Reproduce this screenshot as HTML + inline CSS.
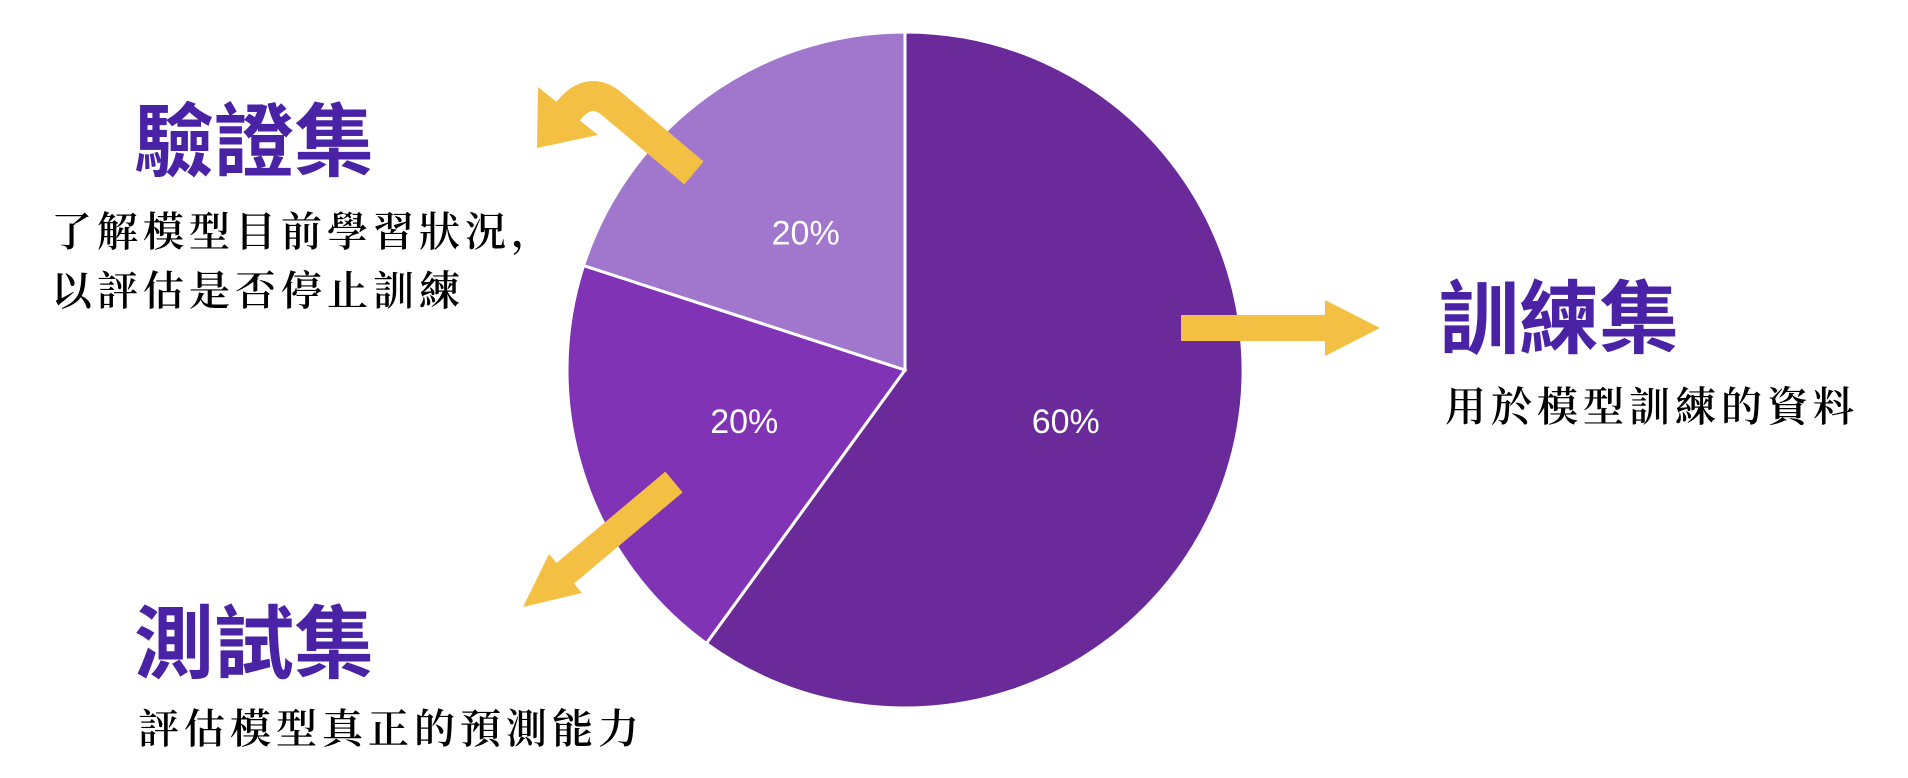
<!DOCTYPE html>
<html><head><meta charset="utf-8"><style>
html,body{margin:0;padding:0;background:#fff;}
body{width:1908px;height:778px;position:relative;overflow:hidden;}
svg{position:absolute;left:0;top:0;}
.title{position:absolute;font-family:"Liberation Sans","Noto Sans CJK TC",sans-serif;font-weight:bold;font-size:80px;color:#4a22a5;line-height:1;white-space:nowrap;}
.sub{position:absolute;font-family:"Liberation Serif","Noto Serif CJK SC",serif;font-weight:600;font-size:41px;color:#000;line-height:1;letter-spacing:5px;white-space:nowrap;}
</style></head><body>
<svg id="chart" width="1908" height="778"></svg>
<div class="title" style="left:134px;top:103px;">驗證集</div>
<div class="sub" style="left:51px;top:212px;">了解模型目前學習狀況，</div>
<div class="sub" style="left:51px;top:271px;">以評估是否停止訓練</div>
<div class="title" style="left:1439px;top:280px;">訓練集</div>
<div class="sub" style="left:1445px;top:387px;">用於模型訓練的資料</div>
<div class="title" style="left:134px;top:605px;">測試集</div>
<div class="sub" style="left:138px;top:709px;">評估模型真正的預測能力</div>
<script>
const categories = ['訓練集', '測試集', '驗證集'];
const values = [60, 20, 20];
const valueLabels = ['60%', '20%', '20%'];
const colors = ['#6a2a9a', '#8033b5', '#a176cd'];
const NS = 'http://www.w3.org/2000/svg';
const svg = document.getElementById('chart');
const cx = 905, cy = 370, r = 338;
const total = values.reduce((a, b) => a + b, 0);
function pt(angDeg, rad) {
  const a = angDeg * Math.PI / 180;
  return [cx + rad * Math.sin(a), cy - rad * Math.cos(a)];
}
let start = 0;
const g = document.createElementNS(NS, 'g');
svg.appendChild(g);
values.forEach((v, i) => {
  const sweep = v / total * 360;
  const end = start + sweep;
  const p0 = pt(start, r), p1 = pt(end, r);
  const large = sweep > 180 ? 1 : 0;
  const path = document.createElementNS(NS, 'path');
  path.setAttribute('d', `M${cx},${cy} L${p0[0]},${p0[1]} A${r},${r} 0 ${large} 1 ${p1[0]},${p1[1]} Z`);
  path.setAttribute('fill', colors[i]);
  path.setAttribute('stroke', '#fff');
  path.setAttribute('stroke-width', '3');
  
  
  g.appendChild(path);
  start = end;
});
start = 0;
values.forEach((v, i) => {
  const sweep = v / total * 360;
  const mid = start + sweep / 2;
  const p = pt(mid, r * 0.5);
  const t = document.createElementNS(NS, 'text');
  t.setAttribute('x', p[0]);
  t.setAttribute('y', p[1]);
  t.setAttribute('fill', '#fff');
  t.setAttribute('font-family', '"Liberation Sans", sans-serif');
  t.setAttribute('font-size', '34');
  t.setAttribute('text-anchor', 'middle');
  t.setAttribute('dominant-baseline', 'central');
  t.textContent = valueLabels[i];
  
  
  svg.appendChild(t);
  start += sweep;
});
const Y = '#f4c044';
function add(tag, attrs, name) {
  const e = document.createElementNS(NS, tag);
  for (const k in attrs) e.setAttribute(k, attrs[k]);
  
  
  svg.appendChild(e);
}
add('polygon', {points: '1181,315 1325,315 1325,300 1380,328 1325,356 1325,341 1181,341', fill: Y}, 'training-arrow');
add('path', {d: 'M674,482 L562,576', stroke: Y, 'stroke-width': 27, fill: 'none'}, 'test-arrow-shaft');
add('polygon', {points: '523,607 549,554 582,593', fill: Y}, 'test-arrow-head');
add('path', {d: 'M694,173 L612,104 Q588,84 566,114', stroke: Y, 'stroke-width': 30, fill: 'none'}, 'validation-arrow-shaft');
add('polygon', {points: '538,87 537,148 598,135', fill: Y}, 'validation-arrow-head');
</script>
</body></html>
